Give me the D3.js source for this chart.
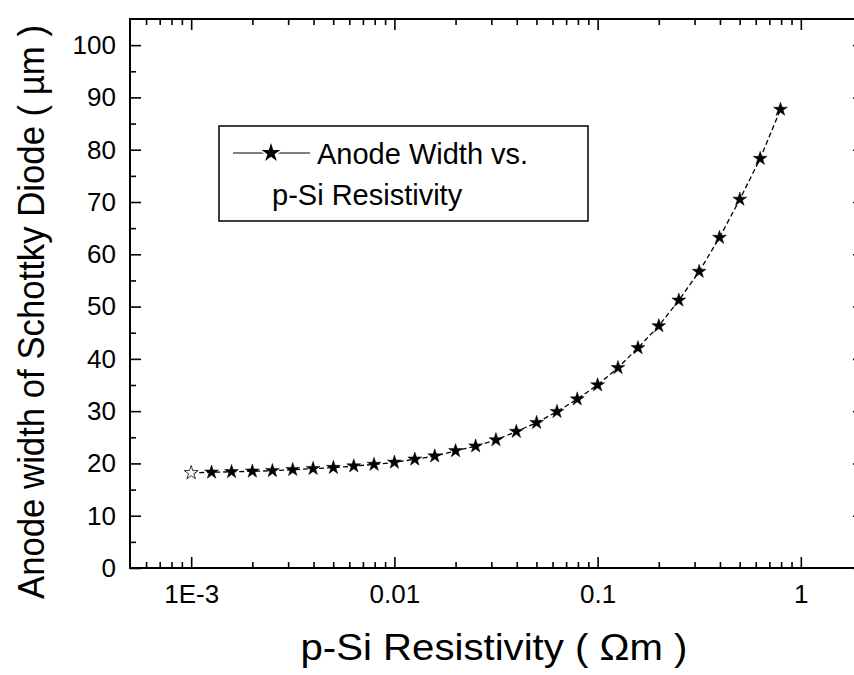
<!DOCTYPE html>
<html>
<head>
<meta charset="utf-8">
<style>
    body {
        margin: 0;
        background: #fff;
        font-family: "Liberation Sans", Arial, sans-serif;
    }
    svg {
        display: block;
    }
    .tick text {
        font-family: "Liberation Sans", Arial, sans-serif;
        font-size: 26px;
        fill: #000;
    }
    .axis-title {
        font-size: 37px;
        text-anchor: middle;
    }
    .legend-text {
        font-size: 29px;
    }
</style>
</head>
<body>
<script src="https://cdn.jsdelivr.net/npm/d3@7"></script>
<script>

    // resistivity (Ohm m), log spaced by 0.1 decade from 1E-3
    var resistivity = [
        0.001, 0.00126, 0.00158, 0.002, 0.00251, 0.00316, 0.00398, 0.00501, 0.00631, 0.00794,
        0.01, 0.0126, 0.0158, 0.02, 0.0251, 0.0316, 0.0398, 0.0501, 0.0631, 0.0794,
        0.1, 0.126, 0.158, 0.2, 0.251, 0.316, 0.398, 0.501, 0.631, 0.794
    ];
    // anode width (um)
    var anodeWidth = [
        18.2, 18.3, 18.4, 18.5, 18.6, 18.8, 19.0, 19.2, 19.5, 19.8,
        20.2, 20.8, 21.4, 22.4, 23.3, 24.5, 26.1, 27.8, 29.9, 32.3,
        35.0, 38.3, 42.1, 46.3, 51.2, 56.7, 63.2, 70.5, 78.3, 87.7
    ];

    var xMajor = [0.001, 0.01, 0.1, 1];
    var xLabels = ["1E-3", "0.01", "0.1", "1"];
    var yMajor = [0, 10, 20, 30, 40, 50, 60, 70, 80, 90, 100];
    var yMinor = [5, 15, 25, 35, 45, 55, 65, 75, 85, 95];

    var width = 854,
        height = 675,
        plotLeft = 130,
        plotRight = 862,
        plotTop = 19,
        plotBottom = 568;

    var data = resistivity.map(function(r, i) { return {r: r, w: anodeWidth[i]}; });

    var x = d3.scaleLog().domain([5e-4, 2]).range([plotLeft, plotRight]);
    var y = d3.scaleLinear().domain([0, 105]).range([plotBottom, plotTop]);

    var xMinor = [];
    [1e-4, 1e-3, 1e-2, 1e-1, 1].forEach(function(d) {
        for (var k = 2; k <= 9; k++) {
            var v = d * k;
            if (v > 5e-4 && v < 2) xMinor.push(v);
        }
    });

    var svg = d3.select("body").append("svg")
        .attr("width", width)
        .attr("height", height);

    function styleAxis(g) {
        g.select(".domain").remove();
        g.selectAll(".tick line").attr("stroke", "#000").attr("stroke-width", 1.6);
    }

    // bottom axis, ticks pointing in
    svg.append("g")
        .attr("transform", "translate(0," + plotBottom + ")")
        .call(d3.axisBottom(x).tickValues(xMinor).tickSize(-6).tickFormat(""))
        .call(styleAxis);
    svg.append("g")
        .attr("transform", "translate(0," + plotBottom + ")")
        .call(d3.axisBottom(x).tickValues(xMajor).tickSize(-11)
            .tickFormat(function(d, i) { return xLabels[i]; }))
        .call(styleAxis)
        .selectAll("text").attr("y", 17);

    // top axis
    svg.append("g")
        .attr("transform", "translate(0," + plotTop + ")")
        .call(d3.axisTop(x).tickValues(xMinor).tickSize(-6).tickFormat(""))
        .call(styleAxis);
    svg.append("g")
        .attr("transform", "translate(0," + plotTop + ")")
        .call(d3.axisTop(x).tickValues(xMajor).tickSize(-11).tickFormat(""))
        .call(styleAxis);

    // left axis
    svg.append("g")
        .attr("transform", "translate(" + plotLeft + ",0)")
        .call(d3.axisLeft(y).tickValues(yMinor).tickSize(-6).tickFormat(""))
        .call(styleAxis);
    svg.append("g")
        .attr("transform", "translate(" + plotLeft + ",0)")
        .call(d3.axisLeft(y).tickValues(yMajor).tickSize(-11).tickFormat(d3.format("d")))
        .call(styleAxis)
        .selectAll("text").attr("x", -14);

    // right axis
    svg.append("g")
        .attr("transform", "translate(" + plotRight + ",0)")
        .call(d3.axisRight(y).tickValues(yMajor).tickSize(-9).tickFormat(""))
        .call(styleAxis);

    // frame
    svg.append("rect")
        .attr("x", plotLeft)
        .attr("y", plotTop)
        .attr("width", plotRight - plotLeft)
        .attr("height", plotBottom - plotTop)
        .attr("fill", "none")
        .attr("stroke", "#000")
        .attr("stroke-width", 2);

    // curve
    var line = d3.line()
        .x(function(d) { return x(d.r); })
        .y(function(d) { return y(d.w); });

    svg.append("path")
        .datum(data)
        .attr("d", line)
        .attr("fill", "none")
        .attr("stroke", "#000")
        .attr("stroke-width", 1.3)
        .attr("stroke-dasharray", "5,3");

    var star = d3.symbol().type(d3.symbolStar).size(60);

    svg.append("g").selectAll("path")
        .data(data)
      .enter().append("path")
        .attr("d", star)
        .attr("transform", function(d) { return "translate(" + x(d.r) + "," + y(d.w) + ")"; })
        .attr("fill", function(d, i) { return i === 0 ? "#fff" : "#000"; })
        .attr("stroke", "#000")
        .attr("stroke-width", function(d, i) { return i === 0 ? 0.8 : 0.5; });

    // legend
    var legend = svg.append("g");
    legend.append("rect")
        .attr("x", 219)
        .attr("y", 126)
        .attr("width", 369)
        .attr("height", 95)
        .attr("fill", "#fff")
        .attr("stroke", "#000")
        .attr("stroke-width", 1.5);
    legend.append("line")
        .attr("x1", 233).attr("x2", 310)
        .attr("y1", 153).attr("y2", 153)
        .attr("stroke", "#000")
        .attr("stroke-width", 1.1);
    legend.append("path")
        .attr("d", d3.symbol().type(d3.symbolStar).size(110))
        .attr("transform", "translate(271,153)")
        .attr("stroke", "#fff")
        .attr("stroke-width", 3)
        .attr("paint-order", "stroke");
    legend.append("text")
        .attr("class", "legend-text")
        .attr("x", 317)
        .attr("y", 164)
        .text("Anode Width vs.");
    legend.append("text")
        .attr("class", "legend-text")
        .attr("x", 272)
        .attr("y", 205)
        .text("p-Si Resistivity");

    // axis titles
    svg.append("text")
        .attr("class", "axis-title")
        .attr("transform", "translate(44,312) rotate(-90)")
        .style("font-size", "36px")
        .attr("textLength", 574)
        .attr("lengthAdjust", "spacingAndGlyphs")
        .text("Anode width of Schottky Diode ( \u00b5m )");

    svg.append("text")
        .attr("class", "axis-title")
        .attr("x", 494)
        .attr("y", 660)
        .attr("textLength", 387)
        .attr("lengthAdjust", "spacingAndGlyphs")
        .text("p-Si Resistivity ( \u03a9m )");
</script>
</body>
</html>
